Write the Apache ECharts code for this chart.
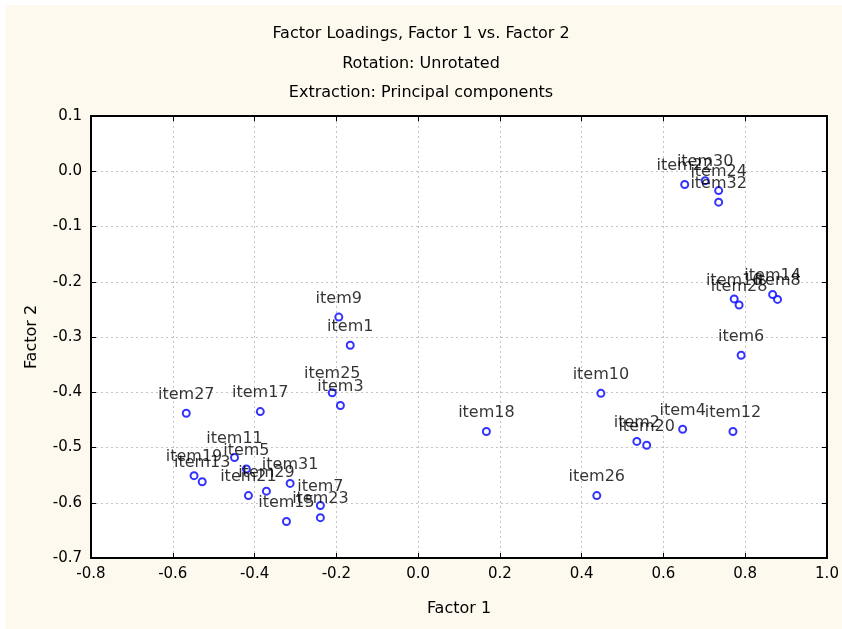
<!DOCTYPE html>
<html>
<head>
<meta charset="utf-8">
<script src="https://cdn.jsdelivr.net/npm/echarts@6/dist/echarts.min.js"></script>
<style>
  html, body { margin: 0; padding: 0; background: #fff; }
  #chart { width: 842px; height: 629px; }
</style>
</head>
<body>
<div id="chart"></div>
<script>
// factor loadings
var itemNames = ['item1','item2','item3','item4','item5','item6','item7','item8',
  'item9','item10','item11','item12','item13','item14','item15','item16',
  'item17','item18','item19','item20','item21','item22','item23','item24',
  'item25','item26','item27','item28','item29','item30','item31','item32']
var factor1 = [-0.166, 0.535, -0.190, 0.647, -0.420, 0.790, -0.239, 0.879,
  -0.194, 0.447, -0.449, 0.770, -0.528, 0.867, -0.322, 0.773,
  -0.386, 0.167, -0.548, 0.559, -0.415, 0.652, -0.239, 0.735,
  -0.210, 0.437, -0.567, 0.785, -0.371, 0.702, -0.313, 0.735]
var factor2 = [-0.315, -0.489, -0.424, -0.467, -0.539, -0.333, -0.605, -0.232,
  -0.264, -0.402, -0.518, -0.471, -0.562, -0.223, -0.634, -0.231,
  -0.435, -0.471, -0.551, -0.496, -0.587, -0.024, -0.627, -0.035,
  -0.401, -0.587, -0.438, -0.242, -0.579, -0.017, -0.565, -0.056]
var titleLines = ['Factor Loadings, Factor 1 vs. Factor 2', 'Rotation: Unrotated', 'Extraction: Principal components']

var font = 'DejaVu Sans'
var points = itemNames.map(function (n, i) {
  return { name: n, value: [factor1[i], factor2[i]] }
})

var chart = echarts.init(document.getElementById('chart'))
var fmt = function (v) { return (Math.round(v * 10) / 10).toFixed(1) }
var frame = { show: true, onZero: false, lineStyle: { color: '#000', width: 2 } }
var tick = { show: true, inside: true, length: 5, lineStyle: { color: '#000' } }
var grid = { show: true, lineStyle: { color: '#c4c4c4', type: [2, 3], width: 1 } }

var option = {
  animation: false,
  backgroundColor: '#fff',
  graphic: [{
    type: 'rect', z: -10, silent: true,
    shape: { x: 5, y: 5, width: 842, height: 629 },
    style: { fill: '#fdf9ee' }
  }],
  title: titleLines.map(function (t, i) {
    return {
      text: t, left: 'center', top: 21 + i * 29.5,
      textStyle: { fontFamily: font, fontSize: 16, fontWeight: 'normal', color: '#000' }
    }
  }),
  grid: { left: 91, top: 116, width: 736, height: 442, show: true, backgroundColor: '#fff', borderWidth: 0 },
  xAxis: [{
    type: 'value', min: -0.8, max: 1.0, interval: 0.2,
    name: 'Factor 1', nameLocation: 'middle', nameGap: 43,
    nameTextStyle: { fontFamily: font, fontSize: 16, color: '#000' },
    axisLine: frame, axisTick: tick, splitLine: grid,
    axisLabel: { formatter: fmt, margin: 9, fontFamily: font, fontSize: 15, color: '#000' }
  }, {
    type: 'value', position: 'top', min: -0.8, max: 1.0, interval: 0.2,
    axisLine: frame, axisTick: tick, splitLine: { show: false }, axisLabel: { show: false }
  }],
  yAxis: [{
    type: 'value', min: -0.7, max: 0.1, interval: 0.1,
    name: 'Factor 2', nameLocation: 'middle', nameGap: 51,
    nameTextStyle: { fontFamily: font, fontSize: 16, color: '#000' },
    axisLine: frame, axisTick: tick, splitLine: grid,
    axisLabel: { formatter: fmt, margin: 9, fontFamily: font, fontSize: 15, color: '#000' }
  }, {
    type: 'value', position: 'right', min: -0.7, max: 0.1, interval: 0.1,
    axisLine: frame, axisTick: tick, splitLine: { show: false }, axisLabel: { show: false }
  }],
  series: [{
    type: 'scatter',
    symbol: 'emptyCircle',
    symbolSize: 7,
    itemStyle: { color: '#0000ff', borderWidth: 1 },
    label: {
      show: true, position: 'top', distance: 6, formatter: '{b}',
      fontFamily: font, fontSize: 16, color: '#000'
    },
    data: points
  }]
}
chart.setOption(option)
</script>
</body>
</html>
